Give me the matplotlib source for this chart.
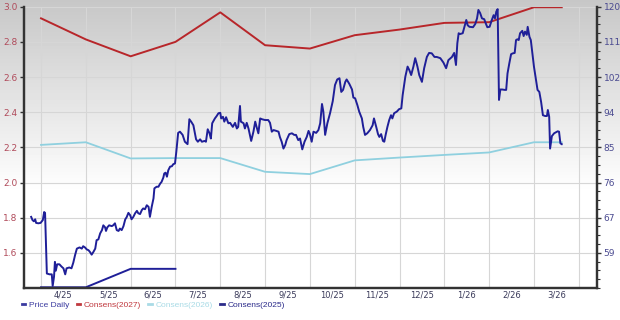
import matplotlib
matplotlib.use("Agg")
import matplotlib.pyplot as plt
import numpy as np
from matplotlib.lines import Line2D
from matplotlib.ticker import AutoMinorLocator

# x is measured in months since the start of 4/25
month_labels = ['4/25', '5/25', '6/25', '7/25', '8/25', '9/25', '10/25',
                '11/25', '12/25', '1/26', '2/26', '3/26']

# consensus estimates (left axis)
cons2027_x = [0, 1, 2, 3, 4, 5, 6, 7, 8, 9, 10, 11, 11.62]
cons2027_y = [2.934, 2.814, 2.718, 2.80, 2.968, 2.781, 2.762, 2.838, 2.870,
              2.908, 2.912, 2.997, 2.997]
cons2026_x = [0, 1, 2, 3, 4, 5, 6, 7, 8, 9, 10, 11, 11.62]
cons2026_y = [2.214, 2.229, 2.137, 2.139, 2.139, 2.061, 2.048, 2.126, 2.142,
              2.157, 2.171, 2.229, 2.229]
cons2025_x = [0, 1, 2, 3]
cons2025_y = [1.404, 1.404, 1.509, 1.509]

# daily price (right axis), (month, price)
price_points = [
    (-0.22, 67.7), (-0.19, 66.9), (-0.16, 66.6), (-0.13, 67.1), (-0.11, 66.2),
    (-0.06, 66.1), (-0.01, 66.2), (0.04, 66.9), (0.07, 68.9), (0.09, 68.7),
    (0.13, 53.6), (0.19, 53.4), (0.24, 53.4), (0.26, 50.5), (0.29, 52.8),
    (0.31, 56.5), (0.33, 54.3), (0.36, 55.9), (0.41, 55.9), (0.46, 55.3),
    (0.50, 54.9), (0.54, 53.4), (0.57, 54.9), (0.63, 55.1), (0.68, 54.9),
    (0.72, 56.3), (0.76, 58.2), (0.80, 59.8), (0.86, 60.1), (0.91, 59.8),
    (0.94, 60.4), (0.98, 60.1), (1.02, 59.6), (1.06, 59.4), (1.09, 59.0),
    (1.13, 58.3), (1.17, 59.0), (1.21, 59.8), (1.24, 61.9), (1.28, 62.1),
    (1.32, 63.6), (1.36, 64.4), (1.39, 65.6), (1.43, 65.1), (1.45, 64.2),
    (1.48, 65.1), (1.52, 65.6), (1.58, 65.4), (1.61, 65.6), (1.65, 66.1),
    (1.69, 64.4), (1.73, 64.2), (1.76, 64.8), (1.80, 64.4), (1.84, 65.4),
    (1.88, 67.1), (1.91, 67.6), (1.95, 68.7), (1.99, 68.1), (2.02, 67.1),
    (2.06, 67.7), (2.10, 68.6), (2.14, 69.2), (2.17, 68.6), (2.21, 68.4),
    (2.25, 69.4), (2.28, 69.8), (2.32, 69.6), (2.36, 70.6), (2.40, 70.2),
    (2.43, 67.7), (2.47, 70.2), (2.51, 72.3), (2.53, 74.8), (2.58, 75.2),
    (2.62, 75.2), (2.66, 76.0), (2.69, 76.4), (2.73, 77.5), (2.75, 78.5),
    (2.78, 78.7), (2.81, 77.7), (2.84, 79.3), (2.88, 80.2), (2.92, 80.3),
    (2.95, 80.8), (2.99, 81.0), (3.02, 84.0), (3.06, 88.6), (3.10, 88.9),
    (3.16, 88.1), (3.21, 86.4), (3.27, 85.8), (3.31, 92.0), (3.35, 91.4),
    (3.40, 90.5), (3.46, 87.0), (3.50, 86.4), (3.55, 87.0), (3.59, 86.4),
    (3.65, 86.6), (3.68, 86.4), (3.72, 89.5), (3.76, 88.5), (3.79, 87.2),
    (3.82, 91.0), (3.88, 92.2), (3.92, 92.8), (3.96, 93.5), (4.00, 93.6),
    (4.02, 92.2), (4.06, 92.6), (4.09, 91.4), (4.13, 92.5), (4.18, 91.0),
    (4.22, 91.1), (4.28, 90.1), (4.33, 91.1), (4.37, 89.7), (4.40, 90.1),
    (4.44, 95.3), (4.46, 91.4), (4.52, 91.0), (4.55, 89.7), (4.59, 91.1),
    (4.63, 89.7), (4.69, 86.6), (4.74, 88.9), (4.78, 91.4), (4.81, 90.1),
    (4.85, 88.5), (4.89, 92.2), (4.93, 92.0), (5.00, 91.8), (5.07, 91.8),
    (5.11, 91.1), (5.15, 88.9), (5.19, 89.3), (5.25, 89.1), (5.30, 88.9),
    (5.33, 87.6), (5.37, 86.4), (5.41, 84.7), (5.45, 85.6), (5.48, 86.8),
    (5.54, 88.3), (5.60, 88.5), (5.65, 88.1), (5.69, 88.1), (5.74, 86.8),
    (5.78, 87.2), (5.83, 84.5), (5.88, 86.4), (5.93, 87.6), (5.97, 89.1),
    (6.00, 88.3), (6.04, 86.4), (6.08, 88.9), (6.14, 88.6), (6.19, 89.3),
    (6.23, 91.0), (6.27, 95.8), (6.30, 93.9), (6.34, 88.1), (6.39, 91.0),
    (6.45, 93.5), (6.51, 96.5), (6.56, 100.5), (6.61, 101.9), (6.66, 102.2),
    (6.70, 98.8), (6.74, 99.3), (6.79, 101.3), (6.82, 101.9), (6.88, 100.8),
    (6.94, 99.4), (6.97, 97.4), (7.01, 97.2), (7.06, 95.5), (7.10, 93.9),
    (7.16, 92.2), (7.19, 90.1), (7.23, 88.1), (7.28, 88.5), (7.34, 89.3),
    (7.40, 90.5), (7.43, 92.2), (7.48, 90.1), (7.52, 88.3), (7.55, 87.6),
    (7.59, 88.3), (7.63, 86.6), (7.66, 86.4), (7.69, 88.1), (7.73, 90.1),
    (7.77, 91.8), (7.81, 93.0), (7.84, 92.2), (7.88, 93.5), (7.94, 93.9),
    (7.99, 94.5), (8.04, 94.7), (8.07, 98.0), (8.13, 102.6), (8.18, 105.1),
    (8.22, 104.2), (8.26, 103.0), (8.31, 105.1), (8.35, 107.2), (8.40, 105.1),
    (8.44, 103.0), (8.50, 101.3), (8.55, 104.7), (8.61, 107.5), (8.66, 108.5),
    (8.72, 108.4), (8.78, 107.5), (8.83, 107.5), (8.91, 107.2), (8.98, 106.1),
    (9.04, 104.7), (9.09, 106.7), (9.17, 107.5), (9.22, 108.5), (9.26, 105.5),
    (9.29, 110.9), (9.32, 113.4), (9.35, 113.2), (9.41, 113.4), (9.44, 114.6),
    (9.49, 116.7), (9.52, 115.4), (9.56, 115.0), (9.64, 114.9), (9.69, 115.7),
    (9.73, 117.1), (9.76, 119.2), (9.80, 118.4), (9.84, 117.1), (9.89, 116.9),
    (9.93, 115.7), (9.96, 114.9), (10.01, 115.0), (10.06, 116.7), (10.10, 117.9),
    (10.13, 117.1), (10.16, 118.8), (10.19, 119.4), (10.22, 96.8), (10.25, 99.4),
    (10.29, 99.4), (10.35, 99.3), (10.38, 99.3), (10.41, 103.4), (10.45, 105.9),
    (10.49, 108.2), (10.53, 108.4), (10.57, 108.5), (10.60, 111.7), (10.63, 111.9),
    (10.66, 111.7), (10.69, 113.4), (10.74, 114.0), (10.77, 112.7), (10.80, 113.8),
    (10.84, 113.0), (10.86, 115.0), (10.90, 112.5), (10.93, 111.7), (10.97, 108.0),
    (11.00, 105.1), (11.04, 102.2), (11.08, 99.3), (11.12, 98.8), (11.16, 96.3),
    (11.20, 93.0), (11.25, 92.8), (11.29, 92.8), (11.31, 94.3), (11.34, 92.6),
    (11.36, 84.7), (11.40, 87.8), (11.45, 88.5), (11.53, 89.0), (11.56, 88.9),
    (11.59, 86.0), (11.62, 85.8),
]
price_x = [p[0] for p in price_points]
price_y = [p[1] for p in price_points]

left_ticks = [1.6, 1.8, 2.0, 2.2, 2.4, 2.6, 2.8, 3.0]
right_labels = ['59', '67', '76', '85', '94', '102', '111', '120']

NAVY = '#1f1f98'
RED = '#b8262a'
LIGHT = '#8fd0df'

fig = plt.figure(figsize=(6.2, 3.2), dpi=100)

# grey-to-white background gradient behind everything
bg = fig.add_axes([0, 0, 1, 1], zorder=-1)
grad = np.clip(np.linspace(0, 1, 320) / 0.6, 0, 1)[:, None]
bg.imshow(0.78 + 0.22 * grad, cmap='gray', vmin=0, vmax=1, aspect='auto',
          extent=[0, 1, 0, 1], origin='upper')
bg.axis('off')

ax = fig.add_axes([0.0387, 0.1, 0.9237, 0.879])
ax.patch.set_visible(False)
ax.set_xlim(-0.38, 12.4)
ax.set_ylim(1.4, 3.0)

ax.plot(cons2027_x, cons2027_y, color=RED, lw=1.4)
ax.plot(cons2026_x, cons2026_y, color=LIGHT, lw=1.3)
ax.plot(cons2025_x, cons2025_y, color=NAVY, lw=1.4)

ax.set_yticks(left_ticks)
ax.set_yticklabels(['%.1f' % v for v in left_ticks])
ax.set_xticks(np.arange(len(month_labels)) + 0.5)
ax.set_xticklabels(month_labels)
ax.set_xticks(np.arange(0, 13), minor=True)
ax.grid(True, which='minor', axis='x', color='#d6d6d6', lw=0.8)
ax.grid(True, which='major', axis='y', color='#d6d6d6', lw=0.8)
ax.tick_params(axis='x', which='both', length=0, labelsize=6,
               labelcolor='#3a3a5a', pad=2)
ax.tick_params(axis='y', length=3, width=1, color='#333333', labelsize=6.5,
               labelcolor='#b04a5a', pad=1.5)

ax2 = ax.twinx()
ax2.set_ylim(50, 120)
ax2.plot(price_x, price_y, color=NAVY, lw=1.4)
# right-axis ticks sit on the left-axis grid lines
ax2.set_yticks([50 + 70 * (v - 1.4) / 1.6 for v in left_ticks])
ax2.set_yticklabels(right_labels)
ax2.yaxis.set_minor_locator(AutoMinorLocator(4))
ax2.tick_params(axis='y', which='major', length=3, width=1, color='#333333',
                labelsize=6.5, labelcolor='#4a4a90', pad=2)
ax2.tick_params(axis='y', which='minor', length=2, width=0.8, color='#333333')

for a in (ax, ax2):
    a.spines['top'].set_visible(False)
    for s in ('left', 'right', 'bottom'):
        a.spines[s].set_color('#333333')
        a.spines[s].set_linewidth(1.6)

handles = [Line2D([], [], color='#3b3ba0', lw=2),
           Line2D([], [], color='#c0393f', lw=2),
           Line2D([], [], color='#a9dbe6', lw=2),
           Line2D([], [], color='#2b2b8a', lw=2)]
names = ['Price Daily', 'Consens(2027)', 'Consens(2026)', 'Consens(2025)']
leg = fig.legend(handles, names, loc='center left', bbox_to_anchor=(0.035, 0.047),
                 ncol=4, frameon=False, handlelength=0.4,
                 handletextpad=0.45, columnspacing=0.9, labelcolor='linecolor',
                 borderaxespad=0, borderpad=0,
                 prop={'family': 'Liberation Sans', 'size': 6})

fig.savefig('out.png', dpi=100)
